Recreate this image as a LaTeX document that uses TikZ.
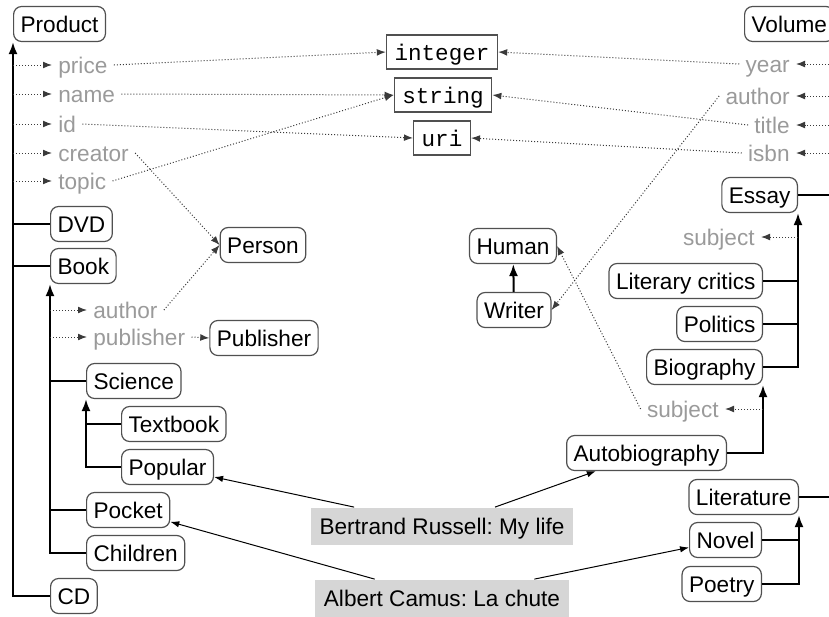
\documentclass[tikz,border=0pt]{standalone}
\usepackage{fontspec}
\setmainfont{Liberation Sans}
\setmonofont{Liberation Mono}
\usetikzlibrary{arrows.meta}
\definecolor{propgray}{HTML}{9A9A9A}
\definecolor{boxline}{HTML}{505050}
\definecolor{workfill}{HTML}{D6D6D6}
\definecolor{dotline}{HTML}{3A3A3A}
\frenchspacing
\begin{document}
\begin{tikzpicture}[x=0.5pt,y=-0.5pt,
  every node/.style={font=\fontsize{11.3}{13}\selectfont, text height=8.1pt, text depth=0pt},
  cls/.style={draw=boxline, line width=0.6pt, rounded corners=4pt, fill=white,
              inner xsep=3.5pt, minimum height=17.5pt},
  dtype/.style={draw=boxline, line width=0.7pt, fill=white,
                font=\ttfamily\fontsize{11.3}{13}\selectfont, inner xsep=4pt, minimum height=17pt},
  prop/.style={text=propgray, inner xsep=3pt, inner ysep=1pt},
  work/.style={fill=workfill, inner xsep=4.5pt, minimum height=18.5pt},
  tree/.style={line width=1pt, draw=black},
  isa/.style={tree, {Latex[length=6pt,width=4.5pt]}-},
  sub/.style={tree, -{Latex[length=6pt,width=4.5pt]}},
  rel/.style={densely dotted, line width=0.5pt, draw=dotline, -{Latex[length=4.5pt,width=3.4pt]}},
  inst/.style={line width=0.5pt, -{Latex[length=4.5pt,width=3.2pt]}}
]
\clip (0,0) rectangle (829,616);

% ---- product hierarchy ----
\node[cls, anchor=west] (product)  at (13,24)   {Product};
\node[cls, anchor=west] (dvd)      at (50,224)  {DVD};
\node[cls, anchor=west] (book)     at (50,266)  {Book};
\node[cls, anchor=west] (science)  at (86,381)  {Science};
\node[cls, anchor=west] (textbook) at (121,424) {Textbook};
\node[cls, anchor=west] (popular)  at (121,467) {Popular};
\node[cls, anchor=west] (pocket)   at (86,510)  {Pocket};
\node[cls, anchor=west] (children) at (86,553)  {Children};
\node[cls, anchor=west] (cd)       at (50,596)  {CD};
\node[cls] (person)     at (263,245) {Person};
\node[cls] (publisherc) at (264,338) {Publisher};

\node[prop, anchor=west] (pprice)   at (52,65)  {price};
\node[prop, anchor=west] (pname)    at (52,94)  {name};
\node[prop, anchor=west] (pid)      at (52,124) {id};
\node[prop, anchor=west] (pcreator) at (52,153) {creator};
\node[prop, anchor=west] (ptopic)   at (52,181) {topic};
\node[prop, anchor=west] (bauthor)    at (87,310) {author};
\node[prop, anchor=west] (bpublisher) at (87,337) {publisher};

% ---- datatypes ----
\node[dtype] (tint) at (442,52)  {integer};
\node[dtype] (tstr) at (443,95)  {string};
\node[dtype] (turi) at (442,138) {uri};

% ---- volume hierarchy ----
\node[cls, anchor=west] (volume) at (744,24) {Volume};
\node[prop, anchor=east] (vyear)   at (796,64)  {year};
\node[prop, anchor=east] (vauthor) at (796,96)  {author};
\node[prop, anchor=east] (vtitle)  at (796,125) {title};
\node[prop, anchor=east] (visbn)   at (796,153) {isbn};
\node[cls, anchor=east] (essay)      at (798,195) {Essay};
\node[prop, anchor=east] (esubject)  at (761,237) {subject};
\node[cls, anchor=east] (litcrit)    at (763,281) {Literary critics};
\node[cls, anchor=east] (politics)   at (763,324) {Politics};
\node[cls, anchor=east] (biography)  at (763,367) {Biography};
\node[prop, anchor=east] (bsubject)  at (725,409) {subject};
\node[cls, anchor=east] (autobio)    at (727,453) {Autobiography};
\node[cls, anchor=east] (literature) at (799,497) {Literature};
\node[cls, anchor=east] (novel)      at (762,540) {Novel};
\node[cls, anchor=east] (poetry)     at (762,584) {Poetry};
\node[cls] (human)  at (513,246) {Human};
\node[cls] (writer) at (514,310) {Writer};

% ---- instances ----
\node[work] (russell) at (442,526) {Bertrand Russell: My life};
\node[work] (camus)   at (442,598) {Albert Camus: La chute};

% ---- subclass trees ----
\draw[isa] (product.south west) -- (product.south west |- cd.west) -- (cd.west);
\draw[tree] (product.south west |- dvd.west) -- (dvd.west);
\draw[tree] (product.south west |- book.west) -- (book.west);

\draw[isa] (book.south west) -- (book.south west |- children.west) -- (children.west);
\draw[tree] (book.south west |- science.west) -- (science.west);
\draw[tree] (book.south west |- pocket.west) -- (pocket.west);

\draw[isa] (science.south west) -- (science.south west |- popular.west) -- (popular.west);
\draw[tree] (science.south west |- textbook.west) -- (textbook.west);

\draw[isa] (volume.south east) -- (volume.south east |- literature.east) -- (literature.east);
\draw[tree] (volume.south east |- essay.east) -- (essay.east);

\draw[isa] (essay.south east) -- (essay.south east |- biography.east) -- (biography.east);
\draw[tree] (essay.south east |- litcrit.east) -- (litcrit.east);
\draw[tree] (essay.south east |- politics.east) -- (politics.east);

\draw[isa] (biography.south east) -- (biography.south east |- autobio.east) -- (autobio.east);

\draw[isa] (literature.south east) -- (literature.south east |- poetry.east) -- (poetry.east);
\draw[tree] (literature.south east |- novel.east) -- (novel.east);

\draw[sub] (writer) -- (human);

% ---- properties ----
\foreach \p in {pprice,pname,pid,pcreator,ptopic}
  \draw[rel] (product.south west |- \p.west) -- (\p.west);
\foreach \p in {bauthor,bpublisher}
  \draw[rel] (book.south west |- \p.west) -- (\p.west);
\foreach \p in {vyear,vauthor,vtitle,visbn}
  \draw[rel] (volume.south east |- \p.east) -- (\p.east);
\draw[rel] (essay.south east |- esubject.east) -- (esubject.east);
\draw[rel] (biography.south east |- bsubject.east) -- (bsubject.east);

% ---- property ranges ----
\draw[rel] (pprice.east) -- (tint.west);
\draw[rel] (pname.east) -- (tstr.west);
\draw[rel] (pid.east) -- (turi.west);
\draw[rel] (ptopic.east) -- (tstr.west);
\draw[rel] (pcreator.east) -- (person.west);
\draw[rel] (bauthor.east) -- (person.west);
\draw[rel] (bpublisher.east) -- (publisherc.west);
\draw[rel] (vyear.west) -- (tint.east);
\draw[rel] (vtitle.west) -- (tstr.east);
\draw[rel] (visbn.west) -- (turi.east);
\draw[rel] (vauthor.west) -- (writer.east);
\draw[rel] (bsubject.west) -- (human.east);

% ---- instance links ----
\draw[inst] (russell) -- (popular);
\draw[inst] (russell) -- (autobio);
\draw[inst] (camus) -- (pocket);
\draw[inst] (camus) -- (novel);
\end{tikzpicture}
\end{document}
